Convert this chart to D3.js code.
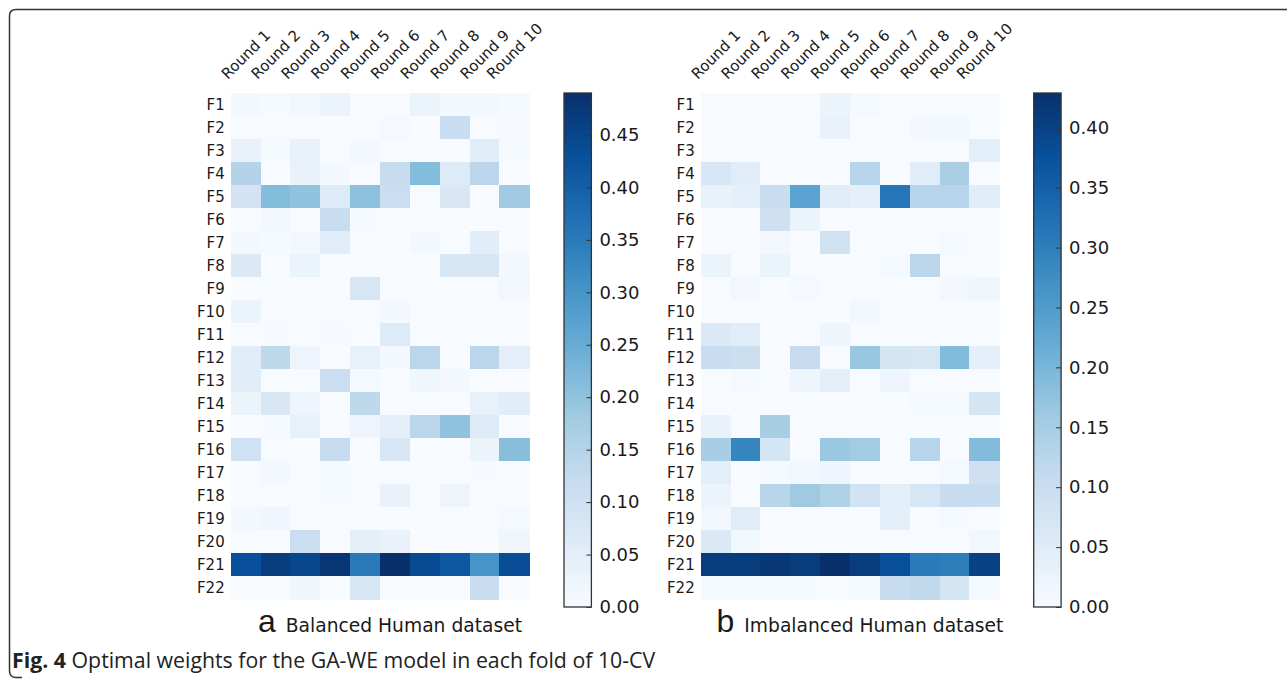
<!DOCTYPE html>
<html>
<head>
<meta charset="utf-8">
<script src="https://cdn.jsdelivr.net/npm/d3@7"></script>
<style>
  body { margin: 0; background: #fff; }
  text { font-family: "DejaVu Sans", sans-serif; fill: #1a1a1a; }
</style>
</head>
<body>
<div id="chart"></div>
<script>
var rounds = ['Round 1', 'Round 2', 'Round 3', 'Round 4', 'Round 5',
              'Round 6', 'Round 7', 'Round 8', 'Round 9', 'Round 10'];
var features = ['F1', 'F2', 'F3', 'F4', 'F5', 'F6', 'F7', 'F8', 'F9', 'F10', 'F11',
                'F12', 'F13', 'F14', 'F15', 'F16', 'F17', 'F18', 'F19', 'F20', 'F21', 'F22'];

// weights per feature (rows) and round (columns)
var balanced = [
  [0.01, 0.005, 0.015, 0.03, 0, 0, 0.03, 0.01, 0.01, 0.005],
  [0, 0, 0, 0, 0, 0.008, 0, 0.115, 0, 0.003],
  [0.035, 0.005, 0.035, 0, 0.012, 0, 0, 0, 0.055, 0.005],
  [0.15, 0, 0.035, 0.01, 0, 0.12, 0.215, 0.065, 0.14, 0],
  [0.09, 0.215, 0.2, 0.065, 0.205, 0.11, 0, 0.075, 0, 0.18],
  [0, 0.015, 0, 0.115, 0.005, 0, 0, 0, 0, 0],
  [0.012, 0.005, 0.012, 0.055, 0, 0, 0.01, 0, 0.055, 0],
  [0.07, 0, 0.03, 0, 0, 0, 0, 0.08, 0.08, 0.012],
  [0, 0, 0, 0, 0.08, 0, 0, 0, 0, 0.015],
  [0.03, 0, 0, 0, 0, 0.012, 0, 0, 0, 0],
  [0, 0.005, 0, 0.005, 0, 0.065, 0, 0, 0, 0],
  [0.055, 0.135, 0.025, 0, 0.04, 0.01, 0.14, 0, 0.14, 0.05],
  [0.055, 0, 0, 0.11, 0.008, 0, 0.02, 0.012, 0, 0],
  [0.03, 0.075, 0.025, 0, 0.135, 0, 0, 0, 0.04, 0.055],
  [0, 0.005, 0.04, 0, 0.025, 0.045, 0.14, 0.2, 0.065, 0],
  [0.1, 0, 0, 0.12, 0, 0.08, 0, 0, 0.03, 0.21],
  [0, 0.012, 0, 0.005, 0, 0, 0, 0, 0.003, 0],
  [0, 0, 0, 0.005, 0, 0.035, 0, 0.025, 0, 0],
  [0.012, 0.018, 0, 0, 0, 0, 0, 0, 0, 0.008],
  [0, 0, 0.11, 0, 0.045, 0.035, 0, 0, 0, 0.02],
  [0.43, 0.465, 0.45, 0.48, 0.35, 0.49, 0.44, 0.415, 0.30, 0.437],
  [0, 0, 0.02, 0, 0.08, 0, 0, 0, 0.115, 0]
];

var imbalanced = [
  [0, 0, 0, 0, 0.025, 0.008, 0, 0, 0, 0],
  [0, 0, 0, 0, 0.03, 0, 0, 0.01, 0.015, 0],
  [0, 0, 0, 0, 0, 0, 0, 0, 0, 0.045],
  [0.07, 0.05, 0, 0, 0, 0.127, 0, 0.05, 0.145, 0],
  [0.03, 0.04, 0.1, 0.235, 0.05, 0.04, 0.315, 0.128, 0.128, 0.05],
  [0, 0, 0.09, 0.025, 0, 0, 0, 0, 0, 0],
  [0, 0, 0.012, 0, 0.085, 0, 0, 0, 0.008, 0],
  [0.025, 0, 0.025, 0, 0, 0, 0.008, 0.12, 0, 0],
  [0, 0.012, 0, 0.008, 0, 0, 0, 0, 0.012, 0.018],
  [0, 0, 0, 0, 0, 0.012, 0, 0, 0, 0],
  [0.06, 0.05, 0, 0, 0.02, 0, 0, 0, 0, 0],
  [0.1, 0.095, 0, 0.107, 0, 0.167, 0.075, 0.07, 0.19, 0.04],
  [0, 0.008, 0, 0.02, 0.04, 0, 0.02, 0, 0, 0],
  [0, 0, 0, 0, 0, 0, 0, 0.008, 0.006, 0.075],
  [0.03, 0, 0.148, 0, 0, 0, 0, 0, 0, 0],
  [0.147, 0.29, 0.075, 0, 0.165, 0.155, 0, 0.127, 0, 0.19],
  [0.045, 0, 0.008, 0.012, 0.02, 0, 0, 0, 0.008, 0.09],
  [0.025, 0, 0.125, 0.16, 0.137, 0.08, 0.045, 0.07, 0.105, 0.105],
  [0.012, 0.05, 0, 0, 0, 0, 0.045, 0, 0.008, 0],
  [0.06, 0.015, 0, 0, 0, 0, 0, 0, 0, 0.012],
  [0.41, 0.41, 0.418, 0.41, 0.43, 0.41, 0.378, 0.305, 0.30, 0.40],
  [0.008, 0.008, 0.008, 0.005, 0, 0.005, 0.105, 0.115, 0.075, 0.008]
];

var balancedTicks = [0.00, 0.05, 0.10, 0.15, 0.20, 0.25, 0.30, 0.35, 0.40, 0.45];
var imbalancedTicks = [0.00, 0.05, 0.10, 0.15, 0.20, 0.25, 0.30, 0.35, 0.40];
var balancedMax = 0.49;
var imbalancedMax = 0.429;

// matplotlib "Blues"
var blues = ['#f7fbff', '#deebf7', '#c6dbef', '#9ecae1', '#6baed6',
             '#4292c6', '#2171b5', '#08519c', '#08306b'];

var W = 1287, H = 680;
var svg = d3.select('#chart').append('svg')
  .attr('width', W)
  .attr('height', H);

// rounded frame, open to the right
svg.append('path')
  .attr('d', 'M1287,9.5 L16,9.5 Q9.5,9.5 9.5,16 L9.5,671 Q9.5,677.5 16,677.5 L22,677.5')
  .attr('fill', 'none')
  .attr('stroke', '#333')
  .attr('stroke-width', 1.5);

var defs = svg.append('defs');

function panel(opt) {
  var g = svg.append('g');
  var x = d3.scaleBand().domain(rounds).range([opt.left, opt.left + 298.6]);
  var y = d3.scaleBand().domain(features).range([93.3, 599.3]);
  var color = d3.scaleLinear()
    .domain(blues.map(function(c, i) { return i / 8 * opt.vmax; }))
    .range(blues)
    .interpolate(d3.interpolateRgb)
    .clamp(true);

  var cells = [];
  opt.data.forEach(function(row, i) {
    row.forEach(function(v, j) {
      cells.push({f: features[i], r: rounds[j], v: v});
    });
  });

  g.selectAll('rect.cell').data(cells).enter()
    .append('rect')
    .classed('cell', true)
    .attr('x', function(d) { return x(d.r); })
    .attr('y', function(d) { return y(d.f); })
    .attr('width', x.bandwidth() + 0.5)
    .attr('height', y.bandwidth() + 0.5)
    .attr('shape-rendering', 'crispEdges')
    .style('fill', function(d) { return color(d.v); });

  // row labels
  g.selectAll('text.row').data(features).enter()
    .append('text')
    .classed('row', true)
    .attr('x', opt.left - 6)
    .attr('y', function(d) { return y(d) + y.bandwidth() / 2; })
    .attr('dy', '0.36em')
    .style('text-anchor', 'end')
    .style('font-size', '15px')
    .text(function(d) { return d; });

  // column labels rotated 45deg, bbox centred on the column
  g.selectAll('text.col').data(rounds).enter()
    .append('text')
    .classed('col', true)
    .style('font-size', '15px')
    .text(function(d) { return d; })
    .attr('transform', function(d) {
      var L = this.getComputedTextLength();
      var a = 11;
      var cx = x(d) + x.bandwidth() / 2;
      var sx = cx - 0.3536 * (L - a);
      return 'translate(' + sx + ',80) rotate(-45)';
    });

  // colorbar
  var cbTop = 93, cbBot = 607, cbL = opt.cbLeft, cbW = 27.4;
  var cy = d3.scaleLinear().domain([0, opt.vmax]).range([cbBot, cbTop]);
  var gid = 'grad' + opt.id;
  var grad = defs.append('linearGradient')
    .attr('id', gid)
    .attr('x1', 0).attr('y1', 1).attr('x2', 0).attr('y2', 0);
  grad.selectAll('stop').data(blues).enter()
    .append('stop')
    .attr('offset', function(c, i) { return i / 8; })
    .attr('stop-color', function(c) { return c; });

  g.append('rect')
    .attr('x', cbL)
    .attr('y', cbTop)
    .attr('width', cbW)
    .attr('height', cbBot - cbTop)
    .style('fill', 'url(#' + gid + ')')
    .style('stroke', '#333')
    .style('stroke-width', 1.3);

  var cbAxis = d3.axisRight(cy)
    .tickValues(opt.ticks)
    .tickFormat(d3.format('.2f'))
    .tickSizeInner(-5)
    .tickSizeOuter(0)
    .tickPadding(8);

  var ax = g.append('g')
    .attr('transform', 'translate(' + (cbL + cbW) + ',0)')
    .call(cbAxis);
  ax.select('.domain').remove();
  ax.selectAll('line').attr('stroke', '#333');
  ax.selectAll('text')
    .style('font-size', '18px')
    .style('font-family', '"DejaVu Sans", sans-serif')
    .attr('fill', '#1a1a1a');

  // subtitle
  var sub = g.append('text')
    .attr('x', opt.left + 149.3 + 10)
    .attr('y', 632)
    .style('text-anchor', 'middle');
  sub.append('tspan')
    .style('font-size', '32px')
    .style('font-family', '"Liberation Sans", sans-serif')
    .text(opt.letter);
  sub.append('tspan')
    .attr('dx', 10)
    .style('font-size', '18.7px')
    .text(opt.title);
}

panel({id: 'a', left: 230.7, cbLeft: 564, data: balanced, vmax: balancedMax,
       ticks: balancedTicks, letter: 'a', title: 'Balanced Human dataset'});
panel({id: 'b', left: 700.7, cbLeft: 1033.7, data: imbalanced, vmax: imbalancedMax,
       ticks: imbalancedTicks, letter: 'b', title: 'Imbalanced Human dataset'});

// caption
var cap = svg.append('text')
  .attr('x', 12)
  .attr('y', 668)
  .style('font-family', '"Open Sans", sans-serif')
  .style('font-size', '21.3px')
  .style('fill', '#222');
cap.append('tspan')
  .style('font-weight', 'bold')
  .text('Fig. 4');
cap.append('tspan')
  .text(' Optimal weights for the GA-WE model in each fold of 10-CV');
</script>
</body>
</html>
